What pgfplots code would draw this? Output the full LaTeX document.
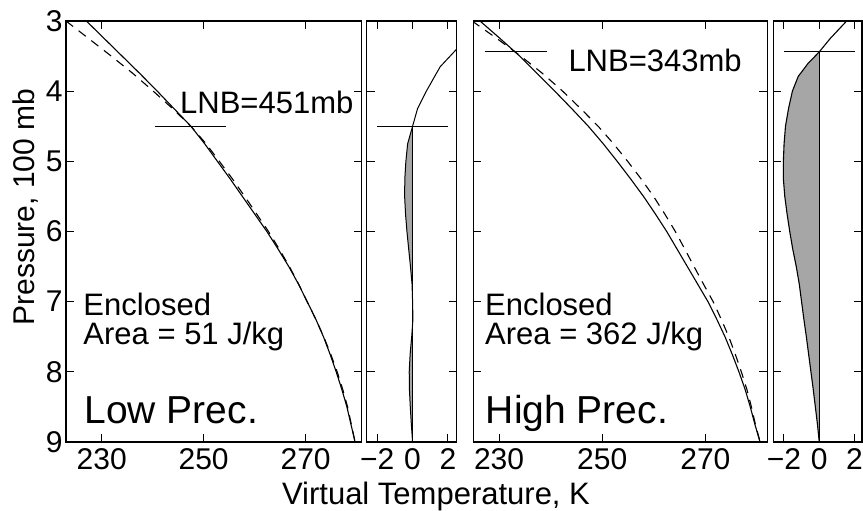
\documentclass[border=0pt]{standalone}
\usepackage{pgfplots}
\pgfplotsset{compat=1.18}
\usepackage{fontspec}
\setmainfont{Liberation Sans}
\newcommand\fs[1]{\fontsize{#1}{#1}\selectfont}
\pgfplotsset{
  panel/.style={scale only axis, height=421pt, anchor=south west,
    y dir=reverse, ymin=3, ymax=9, ytick={3,4,5,6,7,8,9},
    tick align=inside, tick pos=both, major tick length=8pt,
    axis line style={line width=1.1pt}, tick style={line width=1pt, black},
    ticklabel style={font=\fs{30}}, xticklabel style={yshift=-3pt},
    clip=true}
}
\tikzset{
  sline/.style={black, line width=1.1pt},
  dline/.style={black, line width=1.1pt, dash pattern=on 9pt off 7pt},
  txt/.style={inner sep=0pt, anchor=base west, font=\fs{31}}
}
\begin{document}
\begin{tikzpicture}
\path[use as bounding box] (0,0) rectangle (863pt,511pt);
% ---------------- Panel 1: Low Prec.
\begin{axis}[panel, at={(66pt,69pt)}, width=295.7pt, xmin=223, xmax=281,
  xtick={230,250,270}, xticklabels={230,250,270}, yticklabels={3,4,5,6,7,8,9}]
\addplot[sline] coordinates {(227.0,3.0) (230.5,3.25) (234.0,3.5) (237.5,3.75) (240.9,4.0) (244.2,4.25) (247.5,4.5) (250.2,4.75) (252.7,5.0) (255.2,5.25) (257.6,5.5) (260.0,5.75) (262.4,6.0) (264.6,6.25) (266.7,6.5) (268.6,6.75) (270.3,7.0) (272.0,7.25) (273.5,7.5) (274.8,7.75) (276.0,8.0) (277.1,8.25) (278.1,8.5) (278.9,8.75) (279.7,9.0)};
\addplot[dline] coordinates {(223.0,3.0) (227.45,3.25) (231.87,3.5) (236.16,3.75) (240.12,4.0) (243.92,4.25) (247.5,4.5) (250.48,4.75) (253.08,5.0) (255.64,5.25) (258.05,5.5) (260.4,5.75) (262.72,6.0) (264.82,6.25) (266.82,6.5) (268.63,6.75) (270.3,7.0) (272.0,7.25) (273.55,7.5) (274.94,7.75) (276.19,8.0) (277.28,8.25) (278.23,8.5) (278.97,8.75) (279.7,9.0)};
\addplot[black, line width=1pt] coordinates {(240.4,4.51) (254.3,4.51)};
\node[txt] at (axis cs:245.36,4.315) {LNB=451mb};
\node[txt] at (axis cs:226.39,7.20) {Enclosed};
\node[txt] at (axis cs:226.39,7.617) {Area = 51 J/kg};
\node[txt, font=\fs{39}] at (axis cs:226.6,8.743) {Low Prec.};
\end{axis}
% ---------------- Panel 2: difference, Low Prec.
\begin{axis}[panel, at={(366.7pt,69pt)}, width=90pt, xmin=-2.6, xmax=2.5,
  xtick={-2,0,2}, xticklabels={−2,0,2}, yticklabels={}]
\addplot[fill=black!35, draw=none] coordinates {(0,4.5) (-0.28,4.75) (-0.38,5.0) (-0.44,5.25) (-0.45,5.5) (-0.40,5.75) (-0.32,6.0) (-0.22,6.25) (-0.12,6.5) (-0.03,6.75) (0,7.0) (0,7.25) (-0.05,7.5) (-0.14,7.75) (-0.19,8.0) (-0.18,8.25) (-0.13,8.5) (-0.07,8.75) (0,9.0)};
\addplot[black, line width=0.8pt] coordinates {(0,4.5) (0,9)};
\addplot[sline, line width=1pt] coordinates {(4.0,3.0) (3.06,3.25) (2.5,3.4) (2.13,3.5) (1.57,3.65) (1.34,3.75) (0.78,4.0) (0.28,4.25) (0,4.5) (-0.28,4.75) (-0.38,5.0) (-0.44,5.25) (-0.45,5.5) (-0.40,5.75) (-0.32,6.0) (-0.22,6.25) (-0.12,6.5) (-0.03,6.75) (0,7.0) (0.02,7.25) (-0.05,7.5) (-0.14,7.75) (-0.19,8.0) (-0.18,8.25) (-0.13,8.5) (-0.07,8.75) (0,9.0)};
\addplot[black, line width=1pt] coordinates {(-2,4.51) (2,4.51)};
\end{axis}
% ---------------- Panel 3: High Prec.
\begin{axis}[panel, at={(473.3pt,69pt)}, width=294pt, xmin=225, xmax=282,
  xtick={230,250,270}, xticklabels={230,250,270}, yticklabels={}]
\addplot[sline] coordinates {(226.3,3.0) (230.2,3.25) (234.0,3.5) (237.4,3.75) (240.8,4.0) (244.1,4.25) (247.3,4.5) (250.2,4.75) (252.9,5.0) (255.5,5.25) (258.0,5.5) (260.3,5.75) (262.5,6.0) (264.5,6.25) (266.5,6.5) (268.5,6.75) (270.5,7.0) (272.2,7.25) (273.8,7.5) (275.2,7.75) (276.5,8.0) (277.7,8.25) (278.7,8.5) (279.6,8.75) (280.6,9.0)};
\addplot[dline] coordinates {(224.75,3.0) (229.58,3.25) (234.2,3.5) (238.47,3.75) (242.32,4.0) (245.84,4.25) (249.21,4.5) (252.19,4.75) (254.93,5.0) (257.53,5.25) (259.95,5.5) (262.12,5.75) (264.17,6.0) (266.0,6.25) (267.8,6.5) (269.63,6.75) (271.5,7.0) (273.07,7.25) (274.53,7.5) (275.8,7.75) (276.97,8.0) (278.04,8.25) (278.92,8.5) (279.7,8.75) (280.6,9.0)};
\addplot[black, line width=1pt] coordinates {(227.2,3.43) (239.2,3.43)};
\node[txt] at (axis cs:243.42,3.7225) {LNB=343mb};
\node[txt] at (axis cs:227.27,7.20) {Enclosed};
\node[txt] at (axis cs:227.27,7.617) {Area = 362 J/kg};
\node[txt, font=\fs{39}] at (axis cs:227.4,8.743) {High Prec.};
\end{axis}
% ---------------- Panel 4: difference, High Prec.
\begin{axis}[panel, at={(773.3pt,69pt)}, width=88.7pt, xmin=-2.6, xmax=2.42,
  xtick={-2,0,2}, xticklabels={−2,0,2}, yticklabels={}]
\addplot[fill=black!35, draw=none] coordinates {(0,3.44) (-0.23,3.5) (-0.62,3.6) (-1.07,3.75) (-1.19,3.79) (-1.52,4.0) (-1.74,4.25) (-1.91,4.5) (-1.99,4.75) (-2.03,5.0) (-2.03,5.25) (-1.95,5.5) (-1.82,5.75) (-1.67,6.0) (-1.5,6.25) (-1.3,6.5) (-1.13,6.75) (-1.0,7.0) (-0.87,7.25) (-0.73,7.5) (-0.6,7.75) (-0.47,8.0) (-0.34,8.25) (-0.22,8.5) (-0.1,8.75) (0,9.0)};
\addplot[black, line width=1pt] coordinates {(0,3.44) (0,9)};
\addplot[sline] coordinates {(1.55,3.0) (0.62,3.25) (0,3.44) (-0.23,3.5) (-0.62,3.6) (-1.07,3.75) (-1.19,3.79) (-1.52,4.0) (-1.74,4.25) (-1.91,4.5) (-1.99,4.75) (-2.03,5.0) (-2.03,5.25) (-1.95,5.5) (-1.82,5.75) (-1.67,6.0) (-1.5,6.25) (-1.3,6.5) (-1.13,6.75) (-1.0,7.0) (-0.87,7.25) (-0.73,7.5) (-0.6,7.75) (-0.47,8.0) (-0.34,8.25) (-0.22,8.5) (-0.1,8.75) (0,9.0)};
\addplot[black, line width=1pt] coordinates {(-2,3.43) (2.05,3.43)};
\end{axis}
% ---------------- axis labels
\node[rotate=90, anchor=base, inner sep=0pt, font=\fs{30}] at (34pt,304pt) {Pressure, 100 mb};
\node[anchor=base, inner sep=0pt, font=\fs{31}] at (436pt,6pt) {Virtual Temperature, K};
\end{tikzpicture}
\end{document}
